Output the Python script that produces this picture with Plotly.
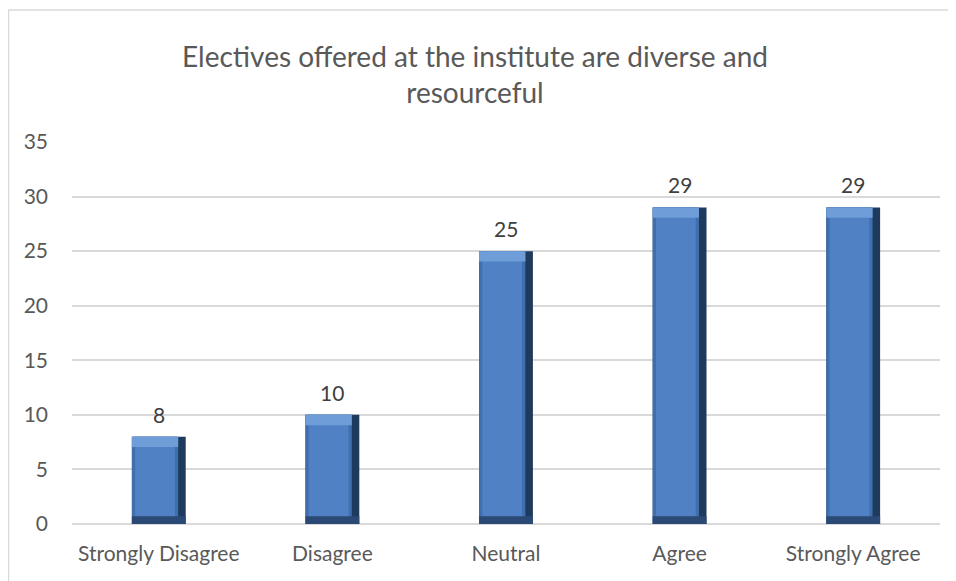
import plotly.graph_objects as go

categories = ["Strongly Disagree", "Disagree", "Neutral", "Agree", "Strongly Agree"]
values = [8, 10, 25, 29, 29]
y_ticks = [0, 5, 10, 15, 20, 25, 30, 35]
title_text = "Electives offered at the institute are diverse and<br>resourceful"

FONT = "Lato, 'Open Sans', sans-serif"
BAR_W = 0.31
TOP_BEVEL = 0.95
BOT_BEVEL = 0.7

W, H = 956, 581
L, R, T, B = 64, 24, 134, 65
PW, PH = W - L - R, H - T - B

fig = go.Figure()
# dark base (edge shading)
fig.add_trace(go.Bar(
    x=categories, y=values, width=BAR_W, offset=-BAR_W / 2,
    marker=dict(color="#1E3A5C", line=dict(width=0)),
    hoverinfo="skip", showlegend=False,
))
# main face
fig.add_trace(go.Bar(
    x=categories, y=values, width=BAR_W * 0.86, offset=-BAR_W / 2,
    marker=dict(color="#3F6FAD", line=dict(width=0)),
    hoverinfo="skip", showlegend=False,
))
# inner face
fig.add_trace(go.Bar(
    x=categories, y=values, width=BAR_W * 0.74, offset=-BAR_W / 2 + BAR_W * 0.06,
    marker=dict(color="#4F81C4", line=dict(width=0)),
    hoverinfo="skip", showlegend=False,
))
# top bevel highlight
fig.add_trace(go.Bar(
    x=categories, y=[TOP_BEVEL] * len(values), base=[v - TOP_BEVEL for v in values],
    width=BAR_W * 0.86, offset=-BAR_W / 2,
    marker=dict(color="#6E9DD8", line=dict(width=0)),
    hoverinfo="skip", showlegend=False,
))
# bottom bevel shadow
fig.add_trace(go.Bar(
    x=categories, y=[BOT_BEVEL] * len(values), base=[0] * len(values),
    width=BAR_W, offset=-BAR_W / 2,
    marker=dict(color="#2A4A75", line=dict(width=0)),
    hoverinfo="skip", showlegend=False,
))

annotations = [
    dict(x=c, y=v, xref="x", yref="y", text=str(v), showarrow=False,
         yanchor="bottom", yshift=8, font=dict(family=FONT, size=21, color="#404040"))
    for c, v in zip(categories, values)
]

fig.update_layout(
    width=W, height=H,
    margin=dict(l=L, r=R, t=T, b=B),
    paper_bgcolor="white", plot_bgcolor="white",
    barmode="overlay",
    title=dict(text=title_text, x=0.4885, xanchor="center", y=0.899, yanchor="top",
               font=dict(family=FONT, size=28, color="#595959")),
    font=dict(family=FONT, color="#595959"),
    xaxis=dict(showgrid=False, showline=False, ticks="", tickfont=dict(size=21, color="#595959"),
               ticklabelstandoff=15),
    yaxis=dict(range=[0, 35], tickvals=y_ticks, showgrid=True, gridcolor="#D9D9D9", gridwidth=1.5,
               zeroline=True, zerolinecolor="#D9D9D9", zerolinewidth=1.5,
               tickfont=dict(size=21, color="#595959"), ticklabelstandoff=23),
    annotations=annotations,
    shapes=[dict(type="rect", xref="paper", yref="paper",
                 x0=(0.5 - L) / PW, x1=(W + 20 - L) / PW, y0=-0.3, y1=(PH + T - 2) / PH,
                 line=dict(color="#D9D9D9", width=1.5), fillcolor="rgba(0,0,0,0)", layer="below")],
)

fig.write_html("out.html")
